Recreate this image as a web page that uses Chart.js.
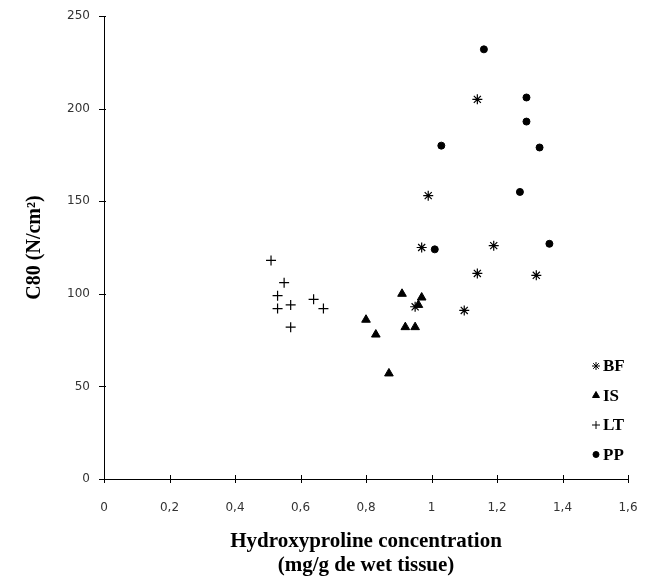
<!DOCTYPE html>
<html>
<head>
<meta charset="utf-8">
<script src="https://cdn.jsdelivr.net/npm/chart.js@4/dist/chart.umd.min.js"></script>
<style>
  html, body { margin: 0; padding: 0; background: #fff; }
  #wrap { width: 647px; height: 578px; }
</style>
</head>
<body>
<div id="wrap"><canvas id="chart" width="647" height="578"></canvas></div>
<script>
// values
const bfX = [1.14, 0.99, 0.97, 1.19, 1.14, 1.32, 1.10, 0.95];
const bfY = [205, 153, 125, 126, 111, 110, 91, 93];
const isX = [0.91, 0.97, 0.96, 0.80, 0.83, 0.92, 0.95, 0.87];
const isY = [100, 98, 94, 86, 78, 82, 82, 57];
const ltX = [0.51, 0.55, 0.53, 0.53, 0.57, 0.64, 0.67, 0.57];
const ltY = [118, 106, 99, 92, 94, 97, 92, 82];
const ppX = [1.16, 1.29, 1.29, 1.33, 1.03, 1.27, 1.36, 1.01];
const ppY = [232, 206, 193, 179, 180, 155, 127, 124];
const xTicks = [0, 0.2, 0.4, 0.6, 0.8, 1, 1.2, 1.4, 1.6];
const yTicks = [0, 50, 100, 150, 200, 250];

const pts = (xs, ys) => xs.map((x, i) => ({ x: x, y: ys[i] }));

const series = [
  { label: 'BF', style: 'star', radius: 5, data: pts(bfX, bfY) },
  { label: 'IS', style: 'triangle', radius: 5, data: pts(isX, isY) },
  { label: 'LT', style: 'cross', radius: 5, data: pts(ltX, ltY) },
  { label: 'PP', style: 'circle', radius: 3.5, data: pts(ppX, ppY) }
];

const serif = '"Liberation Serif", "Times New Roman", serif';

// legend drawn inside the plot, lower right
const innerLegend = {
  id: 'innerLegend',
  afterDraw(chart) {
    const ctx = chart.ctx;
    const area = chart.chartArea;
    ctx.save();
    chart.data.datasets.forEach((ds, i) => {
      const y = area.bottom - 113 + i * 29.5;
      const x = area.right - 32;
      Chart.helpers.drawPoint(ctx, {
        pointStyle: ds.pointStyle,
        radius: ds.label === 'PP' ? 3 : 4,
        borderWidth: 1
      }, x, y);
      ctx.fillStyle = '#000';
      ctx.font = 'bold 17px ' + serif;
      ctx.textBaseline = 'middle';
      ctx.fillText(ds.label, x + 7, y + 1);
    });
    ctx.restore();
  }
};

// tick marks that cross the axis lines
const crossTicks = {
  id: 'crossTicks',
  afterDraw(chart) {
    const ctx = chart.ctx;
    const xs = chart.scales.x, ys = chart.scales.y;
    ctx.save();
    ctx.strokeStyle = '#000';
    ctx.lineWidth = 1;
    ctx.beginPath();
    xTicks.forEach(v => {
      const px = Math.round(xs.getPixelForValue(v)) + 0.5;
      ctx.moveTo(px, ys.bottom - 4);
      ctx.lineTo(px, ys.bottom + 4);
    });
    yTicks.forEach(v => {
      const py = Math.round(ys.getPixelForValue(v)) + 0.5;
      ctx.moveTo(xs.left - 5, py);
      ctx.lineTo(xs.left + 2, py);
    });
    ctx.stroke();
    ctx.restore();
  }
};

new Chart(document.getElementById('chart').getContext('2d'), {
  type: 'scatter',
  data: {
    datasets: series.map(s => ({
      label: s.label,
      data: s.data,
      pointStyle: s.style,
      pointRadius: s.radius,
      pointHoverRadius: s.radius,
      pointBorderWidth: s.style === 'cross' || s.style === 'star' ? 1.2 : 1,
      backgroundColor: '#000',
      borderColor: '#000'
    }))
  },
  options: {
    responsive: false,
    animation: false,
    layout: { padding: { top: 16, right: 19, left: 0, bottom: 0 } },
    plugins: {
      legend: { display: false },
      tooltip: { enabled: false }
    },
    scales: {
      x: {
        type: 'linear',
        min: 0,
        max: 1.6,
        afterBuildTicks: s => { s.ticks = xTicks.map(v => ({ value: v })); },
        afterFit: s => { s.height = 99; s.paddingLeft = 0; s.paddingRight = 12; },
        grid: { display: false, drawTicks: false },
        border: { color: '#000', width: 1 },
        ticks: {
          padding: 22,
          color: '#333',
          font: { family: '"DejaVu Sans", sans-serif', size: 12 },
          callback: v => String(v).replace('.', ',')
        },
        title: {
          display: true,
          text: ['Hydroxyproline concentration', '(mg/g de wet tissue)'],
          color: '#000',
          font: { family: serif, size: 21, weight: 'bold', lineHeight: 1.15 },
          padding: { top: 5, bottom: 0 }
        }
      },
      y: {
        type: 'linear',
        min: 0,
        max: 250,
        afterBuildTicks: s => { s.ticks = yTicks.map(v => ({ value: v })); },
        afterFit: s => { s.width = 104; s.paddingTop = 7; s.paddingBottom = 7; },
        grid: { display: false, drawTicks: false },
        border: { color: '#000', width: 1 },
        ticks: {
          padding: 14,
          color: '#333',
          font: { family: '"DejaVu Sans", sans-serif', size: 12 }
        },
        title: {
          display: true,
          text: 'C80 (N/cm²)',
          color: '#000',
          font: { family: serif, size: 20, weight: 'bold' },
          padding: { top: 23, bottom: 0 }
        }
      }
    }
  },
  plugins: [innerLegend, crossTicks]
});
</script>
</body>
</html>
